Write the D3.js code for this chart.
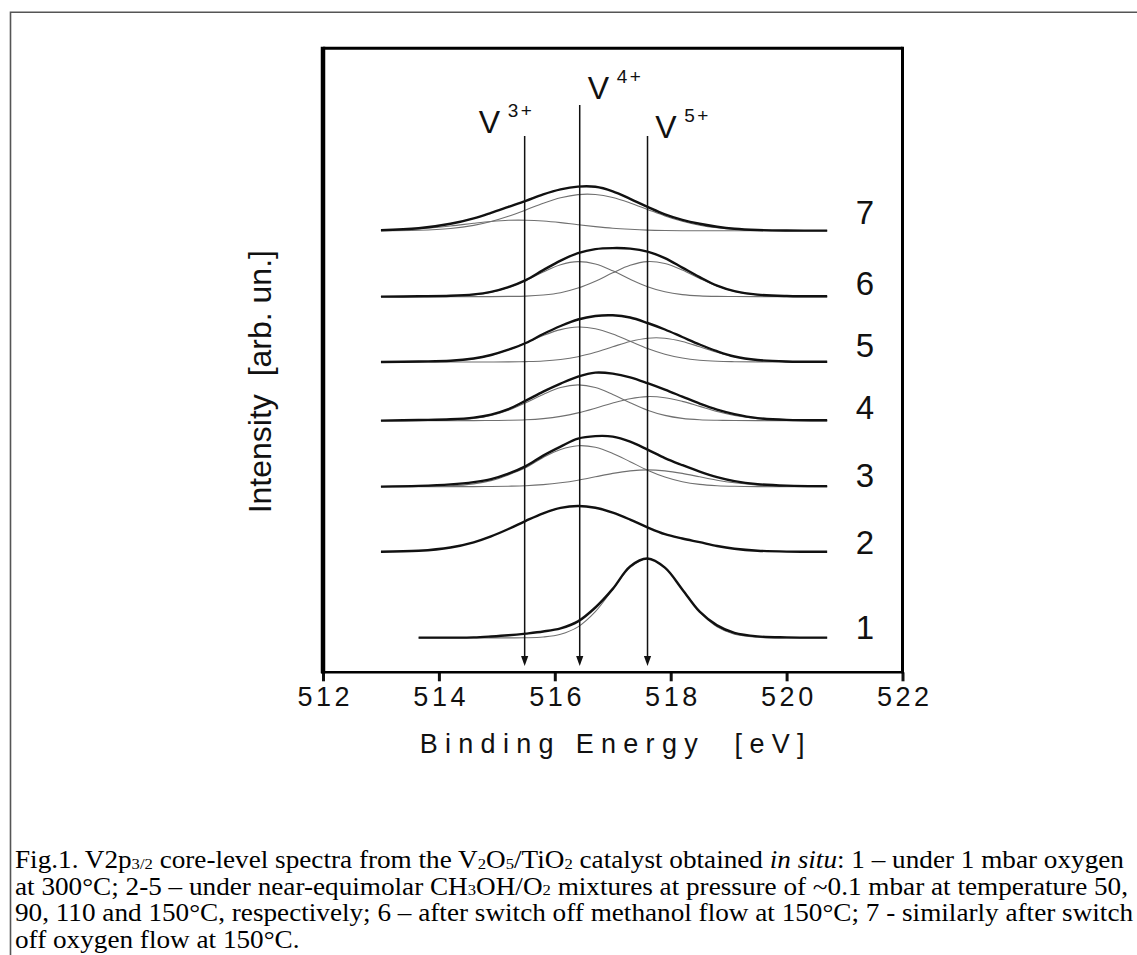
<!DOCTYPE html>
<html>
<head>
<meta charset="utf-8">
<script src="https://cdn.jsdelivr.net/npm/d3@7"></script>
<style>
  body { margin: 0; background: #fff; }
  svg { display: block; overflow: hidden; }
  text { font-family: "Liberation Sans", Arial, sans-serif; fill: #111; white-space: pre; }
  .caption { font-family: "Liberation Serif", "Times New Roman", serif; fill: #000; }
</style>
</head>
<body>
<svg width="1137" height="955"></svg>
<script>
// binding energy grid (eV), shared by every curve
const energy = [513.0, 513.65, 514.2, 514.6, 514.9, 515.2, 515.5, 515.8, 516.1, 516.4, 516.7,
                517.0, 517.3, 517.6, 517.9, 518.2, 518.5, 518.8, 519.1, 519.5, 520.0, 520.7];

// vertical stacking of the spectra (arb. un.)
const offsets = [3.44, 12.03, 18.57, 25.17, 31.03, 37.57, 44.15];
const specLabels = ['1', '2', '3', '4', '5', '6', '7'];

// measured spectra (intensity above own baseline)
const spec1 = [null, 0.03, 0.03, 0.05, 0.14, 0.26, 0.43, 0.64, 0.96, 1.65, 3.04, 4.9, 7.15, 7.94, 7.02, 4.85, 2.62, 1.25, 0.5, 0.15, 0.05, 0.03];
const spec2 = [0.03, 0.12, 0.45, 0.97, 1.56, 2.3, 3.12, 3.87, 4.41, 4.6, 4.42, 3.93, 3.24, 2.46, 1.78, 1.35, 0.98, 0.6, 0.33, 0.13, 0.04, 0.02];
const spec3 = [0, 0.07, 0.22, 0.45, 0.75, 1.3, 2.05, 3.1, 4.0, 4.8, 5.05, 5.0, 4.5, 3.7, 2.85, 2.15, 1.5, 0.95, 0.55, 0.25, 0.1, 0.05];
const spec4 = [0, 0.06, 0.13, 0.3, 0.6, 1.15, 2.0, 2.9, 3.7, 4.4, 4.8, 4.7, 4.33, 3.75, 3.1, 2.4, 1.7, 1.1, 0.65, 0.25, 0.07, 0.03];
const spec5 = [0, 0.05, 0.12, 0.35, 0.7, 1.23, 1.9, 2.8, 3.6, 4.25, 4.6, 4.67, 4.45, 3.9, 3.25, 2.5, 1.75, 1.08, 0.55, 0.2, 0.05, 0.02];
const spec6 = [0, 0.03, 0.08, 0.22, 0.48, 0.95, 1.65, 2.65, 3.6, 4.35, 4.75, 4.85, 4.8, 4.5, 3.85, 2.9, 1.95, 1.1, 0.55, 0.2, 0.06, 0.03];
const spec7 = [0.05, 0.25, 0.7, 1.25, 1.8, 2.4, 3.0, 3.65, 4.15, 4.42, 4.4, 3.95, 3.2, 2.4, 1.65, 1.1, 0.7, 0.4, 0.2, 0.08, 0.03, 0.02];

// fitted components
const fit1V5 = [null, 0, 0, 0, 0, 0, 0.01, 0.09, 0.36, 1.1, 2.62, 4.85, 7.02, 7.94, 7.02, 4.85, 2.62, 1.1, 0.36, 0.06, 0, 0];
const fit3V4 = [0, 0.01, 0.07, 0.27, 0.6, 1.17, 1.9, 2.92, 3.72, 4.09, 3.93, 3.32, 2.49, 1.64, 0.96, 0.49, 0.22, 0.09, 0.03, 0, 0, 0];
const fit3V5 = [0, 0, 0, 0, 0.01, 0.04, 0.09, 0.2, 0.38, 0.64, 0.98, 1.32, 1.57, 1.67, 1.57, 1.32, 0.98, 0.64, 0.38, 0.15, 0.04, 0];
const fit4V4 = [0, 0.01, 0.06, 0.22, 0.52, 1.04, 1.79, 2.62, 3.31, 3.57, 3.31, 2.62, 1.79, 1.04, 0.52, 0.22, 0.08, 0.03, 0.01, 0, 0, 0];
const fit4V5 = [0, 0, 0, 0, 0.01, 0.03, 0.08, 0.2, 0.42, 0.77, 1.24, 1.76, 2.19, 2.4, 2.29, 1.92, 1.42, 0.91, 0.52, 0.2, 0.04, 0];
const fit5V4 = [0, 0.02, 0.11, 0.34, 0.69, 1.22, 1.92, 2.66, 3.24, 3.5, 3.33, 2.79, 2.07, 1.35, 0.78, 0.4, 0.18, 0.07, 0.03, 0.01, 0, 0];
const fit5V5 = [0, 0, 0, 0, 0, 0.01, 0.04, 0.1, 0.25, 0.53, 0.97, 1.52, 2.05, 2.38, 2.38, 2.05, 1.52, 0.97, 0.53, 0.19, 0.04, 0];
const fit6V4 = [0, 0, 0.04, 0.17, 0.43, 0.9, 1.62, 2.47, 3.19, 3.5, 3.26, 2.58, 1.73, 0.99, 0.48, 0.2, 0.07, 0.02, 0.01, 0, 0, 0];
const fit6V5 = [0, 0, 0, 0, 0, 0.02, 0.05, 0.16, 0.39, 0.85, 1.54, 2.38, 3.13, 3.5, 3.31, 2.66, 1.81, 1.05, 0.52, 0.16, 0.02, 0];
const fit7V4 = [0.01, 0.05, 0.23, 0.54, 0.93, 1.45, 2.09, 2.75, 3.3, 3.62, 3.63, 3.33, 2.79, 2.14, 1.49, 0.96, 0.56, 0.3, 0.15, 0.05, 0.01, 0];
const fit7V3 = [0.04, 0.2, 0.48, 0.75, 0.93, 1.05, 1.06, 0.98, 0.82, 0.61, 0.42, 0.26, 0.15, 0.07, 0.03, 0.01, 0, 0, 0, 0, 0, 0];

// oxidation state markers
const stateNames = ['3+', '4+', '5+'];
const stateEnergy = [515.48, 516.43, 517.6];

const majorTicks = [512, 514, 516, 518, 520, 522];
const minorTicks = [513, 515, 517, 519, 521];

const captionLines = [
  [['Fig.1. V2p'], ['3/2', 'sub'], [' core-level spectra from the V'], ['2', 'sub'], ['O'], ['5', 'sub'], ['/TiO'], ['2', 'sub'],
   [' catalyst obtained '], ['in situ', 'it'], [': 1 \u2013 under 1 mbar oxygen']],
  [['at 300\u00b0C; 2-5 \u2013 under near-equimolar CH'], ['3', 'sub'], ['OH/O'], ['2', 'sub'],
   [' mixtures at pressure of ~0.1 mbar at temperature 50,']],
  [['90, 110 and 150\u00b0C, respectively; 6 \u2013 after switch off methanol flow at 150\u00b0C; 7 - similarly after switch']],
  [['off oxygen flow at 150\u00b0C.']]
];

const spectra = [spec1, spec2, spec3, spec4, spec5, spec6, spec7];
const fits = [
  { s: 0, v: fit1V5 },
  { s: 2, v: fit3V4 }, { s: 2, v: fit3V5 },
  { s: 3, v: fit4V4 }, { s: 3, v: fit4V5 },
  { s: 4, v: fit5V4 }, { s: 4, v: fit5V5 },
  { s: 5, v: fit6V4 }, { s: 5, v: fit6V5 },
  { s: 6, v: fit7V4 }, { s: 6, v: fit7V3 }
];

const svg = d3.select('svg');

// outer figure frame (only top and left edges are visible)
svg.append('path')
  .attr('d', 'M10.5,955 V12.3 H1137')
  .attr('fill', 'none').attr('stroke', '#555').attr('stroke-width', 1.6);

const plotL = 323, plotR = 902.5, plotT = 48.3, plotB = 672.3;
const x = d3.scaleLinear().domain([512, 522]).range([plotL, plotR]);
const y = d3.scaleLinear().domain([0, 62.4]).range([plotB, plotT]);

const lineFor = (vals, off) => d3.line()
  .defined(d => d[1] != null)
  .x(d => x(d[0]))
  .y(d => y(off + d[1]))
  .curve(d3.curveCatmullRom.alpha(0.5))(energy.map((e, i) => [e, vals[i]]));

// fitted components: thin gray
svg.append('g').selectAll('path').data(fits).join('path')
  .attr('d', f => lineFor(f.v, offsets[f.s]))
  .attr('fill', 'none').attr('stroke', '#707070').attr('stroke-width', 1.1);

// measured spectra: thick black
svg.append('g').selectAll('path').data(spectra).join('path')
  .attr('d', (s, i) => lineFor(s, offsets[i]))
  .attr('fill', 'none').attr('stroke', '#111').attr('stroke-width', 2.4)
  .attr('stroke-linejoin', 'round');

// spectrum numbers
const labelNudge = [-2.3, -3.5, -1.9, 0.1, 3.5, -0.4, 4.8];
svg.append('g').selectAll('text').data(specLabels).join('text')
  .attr('x', 865)
  .attr('y', (d, i) => y(offsets[i]) - 13.5 - labelNudge[i] + 11.8)
  .attr('text-anchor', 'middle')
  .attr('font-size', 33)
  .text(d => d);

// V state markers: vertical arrows with labels
const markTop = [136, 105, 136];
const vBase = [133.3, 99, 138.3];
const vShift = [-46, 8, 7.7];
const marks = svg.append('g').selectAll('g').data(stateNames).join('g');
marks.append('line')
  .attr('x1', (d, i) => x(stateEnergy[i])).attr('x2', (d, i) => x(stateEnergy[i]))
  .attr('y1', (d, i) => markTop[i]).attr('y2', 658)
  .attr('stroke', '#111').attr('stroke-width', 1.5);
marks.append('path')
  .attr('d', (d, i) => {
    const cx = x(stateEnergy[i]);
    return `M${cx - 3.6},656 L${cx + 3.6},656 L${cx},666 Z`;
  })
  .attr('fill', '#111');
marks.append('text')
  .attr('x', (d, i) => x(stateEnergy[i]) + vShift[i])
  .attr('y', (d, i) => vBase[i])
  .attr('font-size', 32)
  .text('V');
marks.append('text')
  .attr('x', (d, i) => x(stateEnergy[i]) + vShift[i] + 29)
  .attr('y', (d, i) => vBase[i] - 16)
  .attr('font-size', 19)
  .attr('letter-spacing', 2.5)
  .text(d => d);

// x axis ticks
const axisG = svg.append('g').attr('transform', `translate(0,${plotB})`);
axisG.call(d3.axisBottom(x).tickValues(minorTicks).tickSize(4.5).tickFormat(''));
axisG.call(d3.axisBottom(x).tickValues(majorTicks).tickSize(9).tickSizeOuter(0).tickFormat(d3.format('d')));
axisG.selectAll('.domain').remove();
axisG.selectAll('.tick line').attr('stroke', '#111').attr('stroke-width', 3);
axisG.selectAll('.tick text')
  .attr('y', 33.7).attr('dy', 0).attr('dx', 1.8)
  .attr('fill', '#222')
  .attr('font-family', '"Liberation Sans", Arial, sans-serif')
  .attr('font-size', 27)
  .attr('letter-spacing', 3.6);

// plot box
const spines = [
  [plotL, plotT - 1.5, plotL, plotB + 1, 4.5],
  [plotL, plotT, plotR, plotT, 3],
  [plotR, plotT - 1.5, plotR, plotB + 1, 3],
  [plotL - 2, plotB, plotR + 1.5, plotB, 2.6]
];
svg.append('g').selectAll('line').data(spines).join('line')
  .attr('x1', d => d[0]).attr('y1', d => d[1]).attr('x2', d => d[2]).attr('y2', d => d[3])
  .attr('stroke', '#000').attr('stroke-width', d => d[4]);

// axis titles
svg.append('text')
  .attr('x', (plotL + plotR) / 2 + 3)
  .attr('y', 753.3)
  .attr('text-anchor', 'middle')
  .attr('font-size', 27)
  .attr('letter-spacing', 7.3)
  .text('Binding Energy  [eV]');

svg.append('text')
  .attr('transform', 'translate(271,381.7) rotate(-90)')
  .attr('text-anchor', 'middle')
  .attr('font-size', 32)
  .text('Intensity  [arb. un.]');

// figure caption (wider face than Liberation Serif, tight leading)
const cap = svg.append('g');
captionLines.forEach((segs, li) => {
  const t = cap.append('text')
    .attr('class', 'caption')
    .attr('transform', `translate(15,${868 + li * 26.5}) scale(1.11,1)`)
    .attr('font-size', 24.5);
  segs.forEach(([str, kind]) => {
    const ts = t.append('tspan').text(str);
    if (kind === 'sub') ts.attr('font-size', 15).attr('baseline-shift', -1.3);
    if (kind === 'it') ts.attr('font-style', 'italic');
  });
});
</script>
</body>
</html>
